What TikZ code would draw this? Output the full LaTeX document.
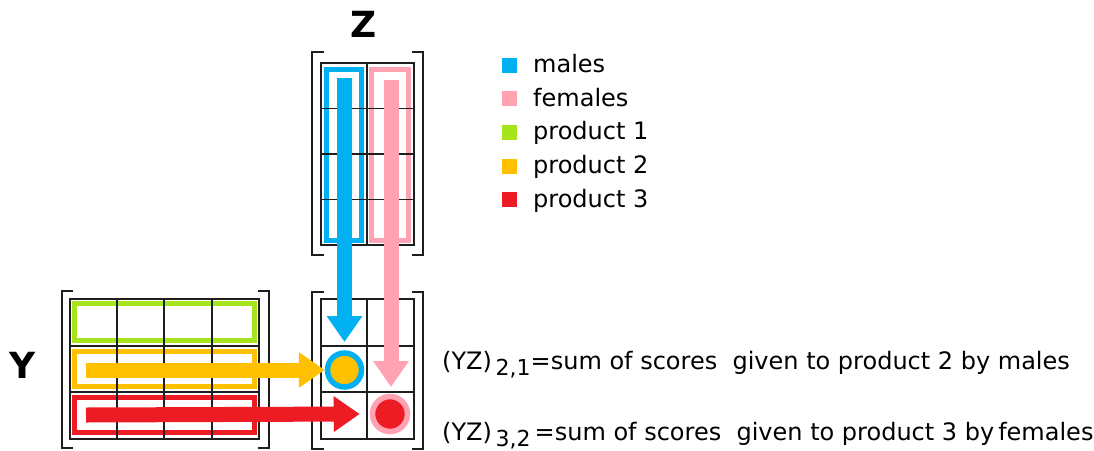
\documentclass[tikz,border=0pt]{standalone}
\usepackage{fontspec}
\setmainfont{DejaVu Sans}
\usetikzlibrary{arrows.meta}
\definecolor{cblue}{RGB}{0,176,240}
\definecolor{cpink}{RGB}{255,162,178}
\definecolor{cgreen}{RGB}{166,228,30}
\definecolor{cyellow}{RGB}{255,192,0}
\definecolor{cred}{RGB}{237,28,36}
\definecolor{cgrid}{RGB}{30,30,30}
\tikzset{
  gridl/.style={draw=cgrid,line width=1.6},
  brk/.style={draw=cgrid,line width=2},
  frm/.style={line width=5},
  bigarrow/.style={line width=15,-{Triangle[length=26pt,width=34pt]}},
  legsq/.style={minimum size=15pt,inner sep=0pt},
  legtxt/.style={anchor=base west,inner sep=0pt,font=\fontsize{24}{28}\selectfont},
  eqtxt/.style={anchor=base west,inner sep=0pt,font=\fontsize{24}{28}\selectfont},
  ring/.style={circle,inner sep=0pt,line width=5.5},
  title/.style={font=\bfseries\fontsize{36}{40}\selectfont,inner sep=0pt}
}
\newcommand{\lowsub}[1]{\raisebox{-6pt}{\fontsize{22}{26}\selectfont\,#1}}
\begin{document}
\begin{tikzpicture}[x=1pt,y=-1pt]
\useasboundingbox[fill=white] (0,0) rectangle (1094,450);

% titles
\node[title] (tz) at (363.5,24.5) {Z};
\node[title] (ty) at (23,365) {Y};

% coloured frames
\draw[frm,cblue] (326.5,69.5) rectangle (361.5,240.5);
\draw[frm,cpink] (371.5,69.5) rectangle (408.5,240.5);
\draw[frm,cgreen] (74.5,303.5) rectangle (254.5,340.5);
\draw[frm,cyellow] (74.5,351.5) rectangle (254.5,386.5);
\draw[frm,cred] (74.5,397.5) rectangle (254.5,432.5);

% Z grid
\draw[gridl] (321,63) rectangle (414,245);
\draw[gridl] (367,63) -- (367,245);
\foreach \y in {108.5,154,199.5} \draw[gridl] (321,\y) -- (414,\y);
% product grid
\draw[gridl] (321,299) rectangle (414,439);
\draw[gridl] (367,299) -- (367,439);
\foreach \y in {346,392} \draw[gridl] (321,\y) -- (414,\y);
% Y grid
\draw[gridl] (70,299) rectangle (259,439);
\foreach \x in {117,164,212} \draw[gridl] (\x,299) -- (\x,439);
\foreach \y in {346,392} \draw[gridl] (70,\y) -- (259,\y);

% brackets
\draw[brk] (324,52) -- (312,52) -- (312,255) -- (324,255);
\draw[brk] (412,52) -- (423,52) -- (423,255) -- (412,255);
\draw[brk] (324,292) -- (312,292) -- (312,449) -- (324,449);
\draw[brk] (412,292) -- (423,292) -- (423,449) -- (412,449);
\draw[brk] (73,291) -- (62,291) -- (62,448) -- (73,448);
\draw[brk] (258,291) -- (269,291) -- (269,448) -- (258,448);

% result circles
\node[ring,draw=cblue,fill=cyellow,minimum size=34pt] (c21) at (344.5,370) {};
\node[ring,draw=cpink,fill=cred,minimum size=35pt] (c32) at (390,414) {};

% arrows
\coordinate (ms) at (344.5,78);
\coordinate (fs) at (391,80);
\coordinate (p2s) at (86,370);
\coordinate (p3s) at (86,415);
\draw[bigarrow,cblue] (ms) -- (344.5,342) coordinate (me);
\draw[bigarrow,cpink] (fs) -- (391,387) coordinate (fe);
\draw[bigarrow,cyellow] (p2s) -- (c21.west);
\draw[bigarrow,cred] (p3s) -- ([xshift=-10pt]c32.west);

% legend
\foreach \c/\t/\b [count=\i] in {cblue/males/72.5,cpink/females/106.2,cgreen/product 1/139.9,cyellow/product 2/173.6,cred/product 3/207.3}{
  \node[legsq,fill=\c] (sq\i) at (509.5,\b-7.5) {};
  \node[legtxt] (lt\i) at (533,\b) {\t};
}

% equations
\node[eqtxt] (eq1) at (442,369) {(YZ)\lowsub{2,1}=sum of scores\ \ given to product 2 by males};
\node[eqtxt] (eq2) at (442,440) {(YZ)\lowsub{3,2}\,=sum of scores\ \ given to product 3 by\,females};
\end{tikzpicture}
\end{document}
